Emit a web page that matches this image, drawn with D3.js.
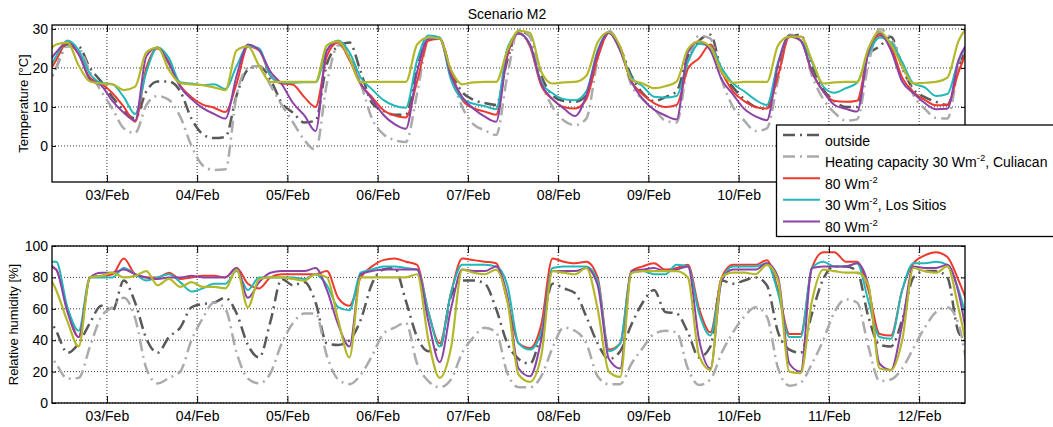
<!DOCTYPE html>
<html>
<head>
<meta charset="utf-8">
<title>Scenario M2</title>
<script src="https://cdnjs.cloudflare.com/ajax/libs/d3/7.8.5/d3.min.js"></script>
<style>
  body { margin: 0; background: #fff; }
  svg { display: block; font-family: "Liberation Sans", Arial, Helvetica, sans-serif; }
</style>
</head>
<body>
<script>
// one sample every 3 hours, first sample 02/Feb 07:30
var sampleStart = Date.UTC(2013, 1, 2, 7, 30);
var sampleStepHours = 3;

// temperature [°C]
var tempOutside = [14, 20, 26, 25.5, 20, 16.5, 12.5, 9, 7, 14, 16.5, 16.5, 14, 7, 3, 2, 2.3, 13, 19.5, 20.5, 17, 11, 8.5, 6, 6.5, 21, 25.5, 26.5, 19, 11, 9, 8, 8, 20, 27.5, 27.5, 19, 13.8, 11.8, 11, 10.5, 22, 29.5, 28, 18, 13, 11.5, 11.3, 13, 23, 29, 25, 18, 13.5, 11.5, 12.5, 14, 23, 27, 28.5, 19, 15, 12, 10, 9.5, 20, 28, 28.5, 20.5, 14.5, 11.5, 10, 10, 23.5, 25.5, 28, 20, 14.5, 12.5, 11.3, 10.5, 20, 27];
var tempCul30 = [14, 20, 25.5, 25, 19, 14, 9.5, 4.5, 3.3, 10.5, 12.8, 11.8, 7.5, 0, -5, -6.2, -6, 13, 20, 20.5, 15.5, 10.5, 6, 1.5, -1, 16, 25.8, 23.5, 16, 7, 3, 1.5, 1, 13.5, 27, 27.5, 18, 10, 5.5, 4, 2.8, 18, 30, 28, 16.5, 10, 6.5, 5.3, 7, 22, 29.5, 25, 15.5, 12, 9.5, 6.5, 6, 21, 28.3, 27.5, 17, 10, 6.5, 3.8, 4.5, 17, 28.5, 28, 18, 12, 8.5, 6.5, 6.8, 21, 30, 27.5, 21, 13, 9.5, 7.2, 7, 20, 28];
var tempCul80 = [17, 22, 26.5, 23.5, 17.5, 16, 13.5, 10, 6.2, 20, 25, 21.5, 15.5, 12.5, 10.6, 9.8, 8.7, 16, 25.5, 24.5, 18, 16, 15.7, 12.5, 10, 23, 26.5, 22, 15.8, 12.5, 9.2, 7.8, 7.3, 16.5, 27, 27.5, 19, 11.8, 9.7, 8.8, 8, 23, 29, 25.5, 15.5, 12, 10, 9.6, 12, 22.5, 29, 24.5, 16.5, 13.2, 11, 10, 10.5, 19.8, 22.5, 26, 19, 14, 11.5, 10, 9.6, 18, 28, 27, 19, 14, 11.5, 11.3, 11.6, 24, 28.3, 25.5, 17.5, 13.8, 11.8, 10.4, 10.5, 19, 26];
var tempSit30 = [18, 23, 27, 24.5, 18.5, 16.2, 15.8, 12.5, 8.2, 19, 25.3, 22.5, 16.3, 16, 15.6, 15.8, 14.6, 20.5, 25.5, 25, 18, 16.2, 16.2, 16.3, 16.3, 24.5, 27, 24, 17.5, 14.5, 11.8, 10.3, 9.8, 22, 28.3, 27.8, 17, 12, 10.8, 10.2, 9.4, 25, 28.8, 26, 16.3, 13.5, 12, 11.7, 14, 24.5, 29.3, 24.5, 17.5, 15.3, 12.6, 12.4, 12.8, 21.5, 26.2, 25.5, 20, 16, 14, 11.8, 10.5, 21.5, 28.2, 27, 21.5, 15.2, 13.6, 14.8, 16.2, 23.5, 27.8, 26.5, 21.5, 16, 15, 12.8, 13.3, 22, 27];
var tempSit80 = [20, 24, 26.5, 23.5, 17, 15.5, 11.5, 8.5, 6.5, 23, 25.2, 21, 15.2, 12, 9.7, 8.2, 7, 18, 26, 24.5, 19, 15.8, 11, 7.8, 3.8, 24.5, 26.8, 22.5, 16, 12, 8, 5.6, 4.4, 19, 27.5, 27.5, 18, 12.5, 9.5, 7.5, 6.2, 23.5, 28.8, 26, 16, 12, 9.6, 7.7, 13, 24, 29, 24.5, 16.5, 12, 9.3, 7.8, 6.8, 24, 26.8, 24.5, 17, 13.2, 9.5, 7.6, 6.6, 21, 28.3, 27, 19, 14, 10.5, 9.5, 8.8, 24, 28.8, 24.5, 16.5, 13.5, 11, 9.4, 9.5, 22, 27];
var tempSixth = [23, 26, 26.5, 20.6, 16.5, 16, 15.8, 14.3, 15.2, 24, 25.2, 19.5, 16.1, 15.8, 15.6, 15, 14.3, 24.5, 25.5, 20.5, 16.4, 16.4, 16.4, 16.4, 16.4, 25.8, 26.8, 22.5, 16.3, 16.4, 16.4, 16.4, 16.4, 26, 27.8, 27.5, 19.5, 15.8, 16.3, 16.4, 16.4, 24.5, 29.5, 29, 19, 16, 16.3, 16.4, 18, 26.5, 29.2, 25.5, 17, 16, 14.8, 15.3, 16.5, 24.8, 26.8, 25.3, 19, 16.2, 16.4, 16.4, 16.4, 25.8, 28, 28, 22, 16, 16.3, 16.4, 16.4, 25, 29.3, 26, 20.5, 16, 16.2, 16.4, 17.5, 27, 31];

// relative humidity [%]
var rhOutside = [58, 46, 32, 38, 51, 62, 59, 78, 64, 41, 32, 42, 48, 61, 63, 64, 67, 57, 37, 29, 52, 79, 75, 77, 64, 38, 37, 40,
  53, 76, 85, 86, 65, 42, 33, 35, 68, 78, 78, 76, 60, 38, 28, 25, 45, 76, 73, 70, 55, 38, 28, 33, 50, 64, 72, 58, 57, 45,
  29, 36, 78, 76, 78, 80, 75, 45, 34, 32, 57, 79, 87, 87, 84, 55, 37, 36, 53, 80, 84, 84, 80, 45, 38];
var rhCul30 = [36, 25, 15.5, 16, 36, 55, 61, 67, 54, 22, 12.5, 16, 20, 40, 54, 64, 60, 32, 15.5, 12.5, 19, 38, 51, 57, 57, 30, 15, 12,
  18, 30, 44, 48, 51, 25, 14, 10, 15, 32, 42, 48, 45, 19, 10, 10, 17, 35, 48, 46, 38, 17, 12, 12, 25, 35, 44, 46, 45, 22,
  11.5, 15, 32, 45, 55, 61, 55, 22, 11, 13, 25, 40, 58, 66, 64, 36, 14, 15, 22, 35, 48, 58, 61, 50, 12];
var rhCul80 = [88, 85, 60, 42, 80, 81, 82, 92, 82, 80, 80, 83, 79, 80, 81, 81, 80, 86, 76, 73, 80, 82, 82, 82, 82, 84, 67, 62,
  80, 87, 91, 92, 90, 88, 58, 38, 70, 92, 91, 90, 89, 65, 38, 35, 50, 92, 90, 89, 90, 80, 34, 38, 84, 87, 89, 85, 86, 88,
  60, 45, 80, 88, 88, 88, 91, 72, 44, 44, 86, 96, 96, 90, 90, 72, 44, 43, 72, 89, 94, 96, 93, 78, 60];
var rhSit30 = [90, 90, 61, 46, 80, 80, 80, 86, 82, 78, 80, 82, 77, 71, 73, 76, 76, 84, 72, 80, 80, 80, 80, 79, 82, 75, 61, 59,
  83, 85, 87, 87, 86, 85, 58, 36, 70, 88, 88, 88, 87, 75, 38, 34, 45, 86, 87, 87, 87, 78, 33, 38, 83, 84, 82, 82, 88, 87,
  57, 43, 78, 87, 87, 87, 89, 70, 42, 42, 86, 90, 87, 87, 89, 65, 42, 41, 72, 89, 89, 90, 88, 72, 45];
var rhSit80 = [89, 85, 58, 42, 80, 83, 83, 85, 82, 80, 79, 80, 80, 81, 80, 80, 80, 86, 67, 77, 83, 84, 84, 84, 86, 72, 50, 36,
  82, 84, 85, 85, 85, 85, 52, 26, 60, 85, 84, 84, 87, 68, 22, 17, 40, 84, 84, 84, 86, 75, 28, 22, 84, 85, 86, 84, 85, 87,
  40, 22, 78, 85, 85, 85, 89, 80, 25, 20, 86, 87, 87, 87, 89, 75, 25, 21, 50, 87, 86, 86, 88, 70, 30];
var rhSixth = [85, 72, 52, 36, 80, 81, 83, 80, 81, 84, 75, 79, 74, 77, 74, 74, 73, 85, 61, 79, 80, 80, 79, 78, 82, 80, 53, 29,
  80, 80, 80, 80, 80, 82, 40, 16, 35, 85, 83, 82, 85, 65, 18, 13.5, 30, 84, 83, 82, 86, 60, 20, 16.6, 83, 84, 84, 84, 84, 80,
  30, 21, 80, 83, 83, 82, 88, 78, 20, 19, 65, 85, 84, 83, 83, 75, 22, 21, 40, 86, 84, 83, 87, 60, 26];

var tempTicks = [0, 10, 20, 30];
var rhTicks = [0, 20, 40, 60, 80, 100];

var legendLabels = [
  ["outside"],
  ["Heating capacity 30 Wm", "-2", ", Culiacan"],
  ["80 Wm", "-2", ""],
  ["30 Wm", "-2", ", Los Sitios"],
  ["80 Wm", "-2", ""]
];

// Sets width and height of SVG object
var w = 1053;
var h = 427;

var plotLeft = 52;
var plotRight = 965;

// legend box (its right side runs off the figure)
var lx = 776.5, ly = 125, lh = 111.5;

// line styles, same order as the series
var styles = [
  { color: "#595959", width: 2.5, dash: "12,5,2,5" },
  { color: "#ababab", width: 2.5, dash: "12,5,2,5" },
  { color: "#ee3a2e", width: 2 },
  { color: "#22b7b8", width: 2 },
  { color: "#8d43a6", width: 2 },
  { color: "#b3b82a", width: 2.2 }
];

var svg = d3.select("body").append("svg").attr("width", w).attr("height", h);

var x = d3.scaleUtc()
  .domain([new Date(Date.UTC(2013, 1, 2, 9, 24)), new Date(Date.UTC(2013, 1, 12, 12, 12))])
  .range([plotLeft, plotRight]);

function sampleTime(i) {
  return new Date(sampleStart + i * sampleStepHours * 3600000);
}

var days = x.ticks(d3.utcDay.every(1));

function drawPanel(id, top, bottom, domain, ticks, label, labelX, series, hideUnderLegend) {
  var y = d3.scaleLinear().domain(domain).range([bottom, top]);
  var g = svg.append("g");

  svg.append("clipPath").attr("id", id)
    .append("rect").attr("x", plotLeft).attr("y", top)
    .attr("width", plotRight - plotLeft).attr("height", bottom - top);

  // dotted grid
  g.selectAll(".vgrid").data(days).enter().append("line")
    .attr("x1", function(d) { return x(d); }).attr("x2", function(d) { return x(d); })
    .attr("y1", top).attr("y2", bottom)
    .attr("stroke", "#222").attr("stroke-width", 0.9).attr("stroke-dasharray", "1,2");
  g.selectAll(".hgrid").data(ticks).enter().append("line")
    .attr("x1", plotLeft).attr("x2", plotRight)
    .attr("y1", function(d) { return y(d); }).attr("y2", function(d) { return y(d); })
    .attr("stroke", "#222").attr("stroke-width", 0.9).attr("stroke-dasharray", "1,2");

  var line = d3.line()
    .x(function(d, i) { return x(sampleTime(i)); })
    .y(function(d) { return y(d); })
    .curve(d3.curveMonotoneX);

  g.append("g").attr("clip-path", "url(#" + id + ")")
    .selectAll("path").data(series).enter().append("path")
    .attr("d", function(d) { return line(d); })
    .attr("fill", "none")
    .attr("stroke", function(d, i) { return styles[i].color; })
    .attr("stroke-width", function(d, i) { return styles[i].width; })
    .attr("stroke-dasharray", function(d, i) { return styles[i].dash || null; })
    .attr("stroke-linejoin", "round");

  // axes, ticks pointing inwards like matlab
  var fmt = d3.utcFormat("%d/%b");
  var ax = g.append("g").attr("transform", "translate(0," + bottom + ")")
    .call(d3.axisBottom(x).tickValues(days).tickFormat(fmt).tickSizeInner(-7).tickSizeOuter(0).tickPadding(8));
  var axTop = g.append("g").attr("transform", "translate(0," + top + ")")
    .call(d3.axisTop(x).tickValues(days).tickFormat("").tickSizeInner(-7).tickSizeOuter(0));
  var ay = g.append("g").attr("transform", "translate(" + plotLeft + ",0)")
    .call(d3.axisLeft(y).tickValues(ticks).tickSizeInner(-4).tickSizeOuter(0).tickPadding(4));
  var ayRight = g.append("g").attr("transform", "translate(" + plotRight + ",0)")
    .call(d3.axisRight(y).tickValues(ticks).tickFormat("").tickSizeInner(-4).tickSizeOuter(0));

  [ax, axTop, ay, ayRight].forEach(function(a) {
    a.select(".domain").remove();
    a.selectAll("line").attr("stroke", "#000");
    a.selectAll("text").attr("fill", "#000").style("font-size", "14px");
    a.attr("font-family", null);
  });

  // date labels that sit behind the legend box are not visible
  if (hideUnderLegend) {
    ax.selectAll(".tick text").filter(function(d) { return x(d) > lx; }).remove();
  }

  g.append("rect").attr("x", plotLeft).attr("y", top)
    .attr("width", plotRight - plotLeft).attr("height", bottom - top)
    .attr("fill", "none").attr("stroke", "#000").attr("stroke-width", 1.3);

  g.append("text").text(label)
    .attr("transform", "translate(" + labelX + "," + ((top + bottom) / 2) + ") rotate(-90)")
    .attr("text-anchor", "middle").style("font-size", "13px");
}

drawPanel("clipTemp", 25, 182, [-9.25, 31], tempTicks, "Temperature [\u00b0C]", 28,
  [tempOutside, tempCul30, tempCul80, tempSit30, tempSit80, tempSixth], true);
drawPanel("clipRh", 246, 403, [0, 100], rhTicks, "Relative humidity [%]", 17.5,
  [rhOutside, rhCul30, rhCul80, rhSit30, rhSit80, rhSixth], false);

svg.append("text").text("Scenario M2")
  .attr("x", 507).attr("y", 18.5).attr("text-anchor", "middle").style("font-size", "14px");

// legend, cut off at the bottom like in the figure
svg.append("clipPath").attr("id", "clipLegend")
  .append("rect").attr("x", lx).attr("y", ly).attr("width", 300).attr("height", lh);
var legend = svg.append("g");
legend.append("rect").attr("x", lx).attr("y", ly).attr("width", 300).attr("height", lh)
  .attr("fill", "#fff").attr("stroke", "none");
var items = legend.append("g").attr("clip-path", "url(#clipLegend)")
  .selectAll("g").data(legendLabels).enter().append("g")
  .attr("transform", function(d, i) { return "translate(0," + (ly + 10 + i * 21.6) + ")"; });
items.append("line")
  .attr("x1", lx + 6.5).attr("x2", lx + 43.5).attr("y1", 0).attr("y2", 0)
  .attr("stroke", function(d, i) { return styles[i].color; })
  .attr("stroke-width", function(d, i) { return styles[i].width; })
  .attr("stroke-dasharray", function(d, i) { return styles[i].dash || null; });
var txt = items.append("text").attr("x", lx + 48.5).attr("y", 10.5).style("font-size", "14px");
txt.append("tspan").text(function(d) { return d[0]; });
txt.filter(function(d) { return d.length > 1; }).append("tspan")
  .text(function(d) { return d[1]; }).attr("dy", -6).style("font-size", "9.5px");
txt.filter(function(d) { return d.length > 1; }).append("tspan")
  .text(function(d) { return d[2]; }).attr("dy", 6);
legend.append("rect").attr("x", lx).attr("y", ly).attr("width", 300).attr("height", lh)
  .attr("fill", "none").attr("stroke", "#000").attr("stroke-width", 1.3);
</script>
</body>
</html>
